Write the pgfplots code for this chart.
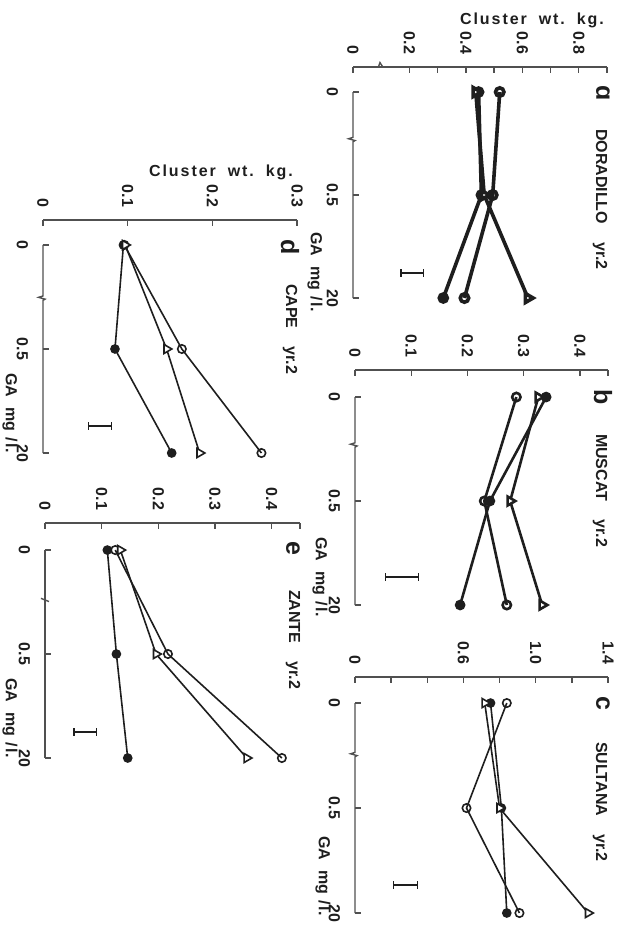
\documentclass[border=0pt]{standalone}
\usepackage{pgfplots}
\pgfplotsset{compat=1.18}
\usetikzlibrary{arrows.meta}
\usepackage{fontspec}
\setmainfont{Liberation Sans}
\definecolor{ink}{HTML}{1E1E1E}
\definecolor{axg}{HTML}{505050}
\newcommand{\tfont}{\bfseries\fontsize{8}{9}\selectfont}
\newcommand{\lfont}{\bfseries\fontsize{12.5}{13}\selectfont}
\newcommand{\galabel}{GA\hspace{5pt}mg\hspace{3pt}/\hspace{1pt}l.}
\newcommand{\cwlabel}{\addfontfeature{LetterSpace=12}Cluster\hspace{6pt}wt.\hspace{6pt}kg.}
\pgfplotsset{
  panel/.style={
    scale only axis, anchor=north west, clip=false,
    y dir=reverse,
    axis x line*=top, axis y line*=left, axis line style={-, draw=axg, line width=0.7pt},
    y axis line style={draw=none},
    tick align=inside, major tick length=2.8pt, minor tick length=2.8pt,
    tick style={draw=axg, line width=0.7pt},
    ytick={0,1,2}, yticklabels={0,0.5,20}, ymax=2, xmin=0,
    /pgf/number format/assume math mode=true,
    tick label style={font=\tfont, text=ink},
    xticklabel style={rotate=-90, anchor=east}, xticklabel shift=3pt,
    yticklabel style={rotate=-90, anchor=north}, yticklabel shift=4pt,
  },
  fc/.style={ink, mark=*, mark size=2pt, mark options={fill=ink, solid}},
  oc/.style={ink, mark=o, mark size=2.1pt, mark options={fill=white, solid}},
  tr/.style={ink, mark=triangle*, mark size=2.6pt, mark options={fill=white, solid, rotate=-90}},
  lsd/.style={ink, mark=none, forget plot, error bars/.cd, x dir=both, x explicit,
    error mark=none,
    error bar style={ink, line width=0.7pt, -{Bar[width=3.8pt]}}},
}
\begin{document}
\begin{tikzpicture}[x=0.5pt, y=0.5pt]
% ---------- a DORADILLO ----------
\begin{axis}[panel, at={(176.5pt,-33.5pt)}, width=127pt, height=115.5pt,
  ymin=-0.243, xmax=0.9,
  xtick={0,0.2,0.4,0.6,0.8}, xticklabels={0,0.2,0.4,0.6,0.8},
  minor xtick={0.3,0.5,0.7,0.9}]
\addplot[fc, line width=1.8pt] coordinates {(0.445,0) (0.455,1) (0.32,2)};
\addplot[oc, line width=1.8pt] coordinates {(0.52,0) (0.495,1) (0.395,2)};
\addplot[tr, line width=1.8pt] coordinates {(0.435,0) (0.465,1) (0.62,2)};
\addplot[lsd] coordinates {(0.21,1.757) +- (0.043,0)};
\draw[axg, line width=0.7pt] (axis cs:0,0) -- (axis cs:0,0.44) -- ++(-2.2pt,-0.7pt) -- ++(3.2pt,-0.9pt) -- ++(-1pt,-0.6pt) -- (axis cs:0,2);
\draw[axg, line width=0.7pt] (axis cs:0.09,-0.243) -- ++(0.8pt,2.2pt) -- ++(1.4pt,-2.2pt);
\end{axis}
% ---------- b MUSCAT ----------
\begin{axis}[panel, at={(177.5pt,-185pt)}, width=126.5pt, height=117.5pt,
  ymin=-0.26, xmax=0.45,
  xtick={0,0.1,0.2,0.3,0.4}, xticklabels={0,0.1,0.2,0.3,0.4},
  minor xtick={0.45}]
\addplot[fc, line width=1.3pt] coordinates {(0.340,0) (0.240,1) (0.187,2)};
\addplot[oc, line width=1.3pt] coordinates {(0.287,0) (0.230,1) (0.270,2)};
\addplot[tr, line width=1.3pt] coordinates {(0.326,0) (0.276,1) (0.333,2)};
\addplot[lsd] coordinates {(0.0835,1.73) +- (0.0305,0)};
\draw[axg, line width=0.7pt] (axis cs:0,0) -- (axis cs:0,0.44) -- ++(-2.2pt,-0.7pt) -- ++(3.2pt,-0.9pt) -- ++(-1pt,-0.6pt) -- (axis cs:0,2);
\end{axis}
% ---------- c SULTANA ----------
\begin{axis}[panel, at={(177.5pt,-338.5pt)}, width=126.5pt, height=118pt,
  ymin=-0.248, xmax=1.4,
  xtick={0,0.6,1.0,1.4}, xticklabels={0,0.6,1.0,1.4},
  minor xtick={0.2,0.4,0.8,1.2}]
\addplot[fc, line width=0.8pt] coordinates {(0.75,0) (0.81,1) (0.84,2)};
\addplot[oc, line width=0.8pt] coordinates {(0.84,0) (0.617,1) (0.91,2)};
\addplot[tr, line width=0.8pt] coordinates {(0.718,0) (0.80,1) (1.29,2)};
\addplot[lsd] coordinates {(0.28,1.733) +- (0.07,0)};
\draw[axg, line width=0.7pt] (axis cs:0,0) -- (axis cs:0,0.47) -- ++(-2.2pt,-0.7pt) -- ++(3.2pt,-0.9pt) -- ++(-1pt,-0.6pt) -- (axis cs:0,2);
\end{axis}
% ---------- d CAPE ----------
\begin{axis}[panel, at={(21.5pt,-110pt)}, width=127pt, height=116.5pt,
  ymin=-0.24, xmax=0.3,
  xtick={0,0.1,0.2,0.3}, xticklabels={0,0.1,0.2,0.3}]
\addplot[fc, line width=0.8pt] coordinates {(0.095,0) (0.085,1) (0.152,2)};
\addplot[oc, line width=0.8pt] coordinates {(0.096,0) (0.164,1) (0.258,2)};
\addplot[tr, line width=0.8pt] coordinates {(0.097,0) (0.146,1) (0.185,2)};
\addplot[lsd] coordinates {(0.0675,1.74) +- (0.0145,0)};
\draw[axg, line width=0.7pt] (axis cs:0,0) -- (axis cs:0,0.49) -- ++(-2.2pt,-0.7pt) -- ++(3.2pt,-0.9pt) -- ++(-1pt,-0.6pt) -- (axis cs:0,2);
\end{axis}
% ---------- e ZANTE ----------
\begin{axis}[panel, at={(22.5pt,-261.5pt)}, width=127.5pt, height=117.5pt,
  ymin=-0.26, xmax=0.45,
  xtick={0,0.1,0.2,0.3,0.4}, xticklabels={0,0.1,0.2,0.3,0.4},
  minor xtick={0.45}]
\addplot[fc, line width=0.8pt] coordinates {(0.110,0) (0.126,1) (0.146,2)};
\addplot[oc, line width=0.8pt] coordinates {(0.124,0) (0.217,1) (0.418,2)};
\addplot[tr, line width=0.8pt] coordinates {(0.133,0) (0.196,1) (0.356,2)};
\addplot[lsd] coordinates {(0.071,1.75) +- (0.021,0)};
\draw[axg, line width=0.7pt] (axis cs:0,0) -- (axis cs:0,2);
\draw[axg, line width=0.7pt] (axis cs:0,0.48) ++(-2pt,0.8pt) -- ++(4pt,-1.6pt);
\end{axis}
% ---------- texts ----------
\node[font=\tfont, text=ink] at (532,-20) {\cwlabel};
\node[font=\tfont, text=ink] at (221,-172) {\cwlabel};
\foreach \l/\x/\y in {ɑ/603/93, b/603/397, c/603/703, d/290/247, e/293/548}
  \node[font=\lfont, text=ink, rotate=-90] at (\x,-\y) {\l};
\node[font=\tfont, text=ink, rotate=-90, anchor=west] at (600,-122) {DORADILLO\hspace{9pt}yr.2};
\node[font=\tfont, text=ink, rotate=-90, anchor=west] at (600,-427) {MUSCAT\hspace{9pt}yr.2};
\node[font=\tfont, text=ink, rotate=-90, anchor=west] at (600,-735) {SULTANA\hspace{9pt}yr.2};
\node[font=\tfont, text=ink, rotate=-90, anchor=west] at (290,-277) {CAPE\hspace{9pt}yr.2};
\node[font=\tfont, text=ink, rotate=-90, anchor=west] at (293,-583) {ZANTE\hspace{9pt}yr.2};
\foreach \x/\y in {315/272, 320/577, 323/876, 10/413, 10/718}
  \node[font=\tfont, text=ink, rotate=-90] at (\x,-\y) {\galabel};
\pgfresetboundingbox
\path (0,0) rectangle (625,-927);
\end{tikzpicture}
\end{document}
